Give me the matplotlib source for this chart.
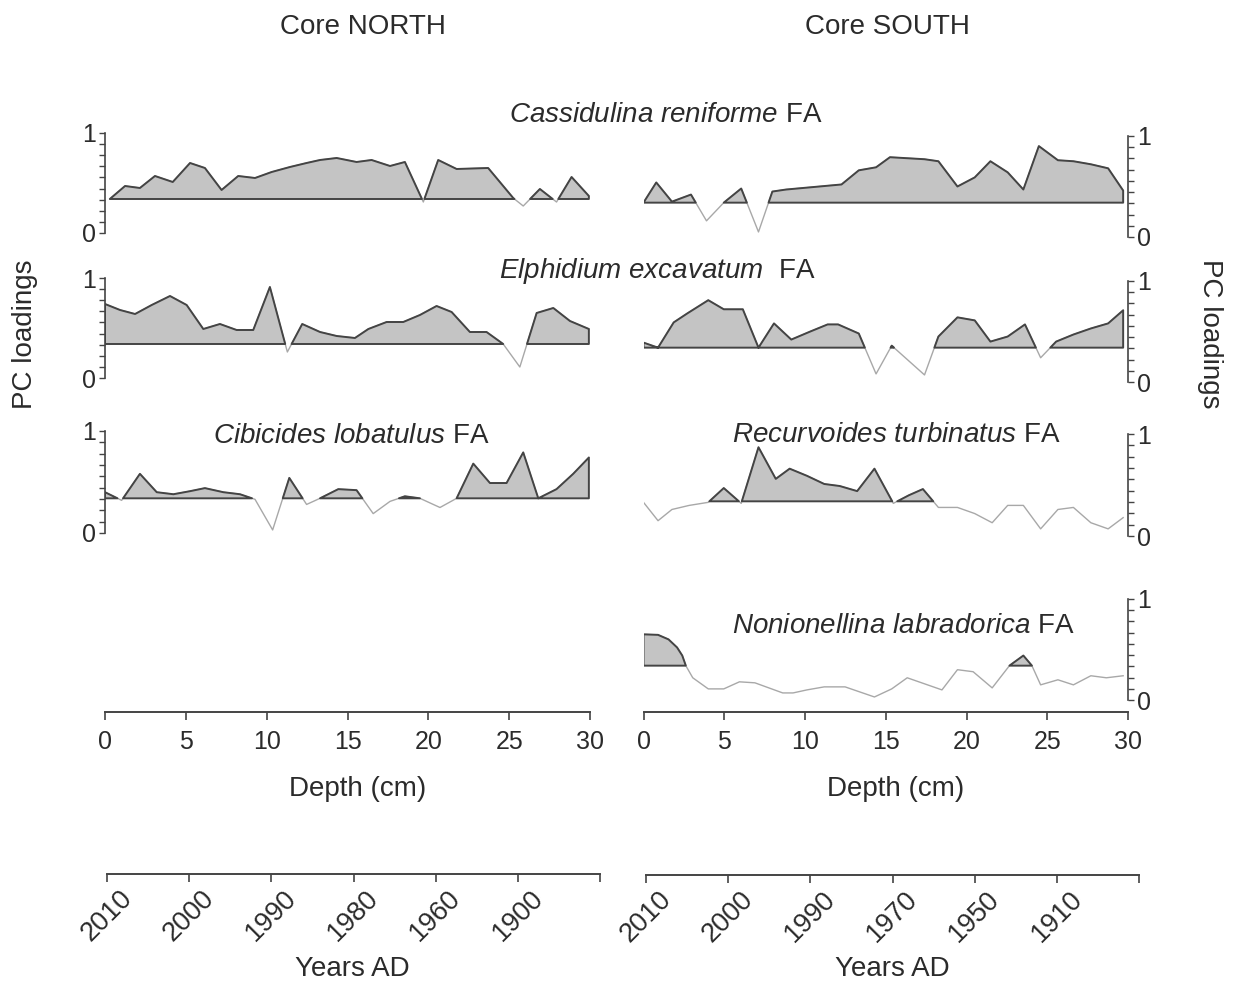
import numpy as np
import matplotlib
matplotlib.use("Agg")
import matplotlib.pyplot as plt
from matplotlib.ticker import FixedLocator

plt.rcParams['font.family'] = ['Liberation Sans', 'DejaVu Sans']
plt.rcParams['mathtext.fontset'] = 'custom'
plt.rcParams['mathtext.rm'] = 'Liberation Sans'
plt.rcParams['mathtext.it'] = 'Liberation Sans:italic'

# Loading above which the curve is shaded
BASELINE = 0.34

# Core NORTH -- Cassidulina reniforme FA
north_cass_depth = [0.3, 1.24, 2.16, 3.09, 4.19, 5.26, 6.18, 7.21, 8.24, 9.28, 10.31, 11.44,
                    12.47, 13.3, 14.33, 15.56, 16.49, 17.63, 18.55, 19.69, 20.61, 21.75, 23.7,
                    25.25, 25.87, 26.9, 27.93, 28.86, 29.93]
north_cass_vals = [0.34, 0.47, 0.45, 0.57, 0.51, 0.70, 0.65, 0.43, 0.57, 0.55, 0.61, 0.66,
                   0.70, 0.73, 0.75, 0.71, 0.73, 0.67, 0.71, 0.31, 0.73, 0.64, 0.65,
                   0.35, 0.27, 0.44, 0.31, 0.56, 0.37]

# Core NORTH -- Elphidium excavatum FA
north_elph_depth = [0.0, 0.93, 1.86, 2.89, 4.02, 5.05, 6.08, 7.11, 8.14, 9.17, 10.2, 11.28,
                    12.2, 13.3, 14.33, 15.46, 16.29, 17.42, 18.45, 19.48, 20.51, 21.44, 22.57,
                    23.6, 24.63, 25.66, 26.7, 27.73, 28.76, 29.93]
north_elph_vals = [0.74, 0.68, 0.64, 0.73, 0.82, 0.73, 0.49, 0.54, 0.48, 0.48, 0.91, 0.26,
                   0.54, 0.46, 0.42, 0.40, 0.49, 0.56, 0.56, 0.63, 0.72, 0.66, 0.46,
                   0.46, 0.34, 0.11, 0.65, 0.70, 0.57, 0.49]

# Core NORTH -- Cibicides lobatulus FA
north_cib_depth = [0.0, 1.03, 2.16, 3.2, 4.23, 5.26, 6.18, 7.32, 8.35, 9.28, 10.37, 11.4,
                   12.47, 13.3, 14.43, 15.56, 16.59, 17.63, 18.55, 19.48, 20.72, 21.75, 22.78,
                   23.81, 24.84, 25.87, 26.8, 27.93, 28.96, 29.93]
north_cib_vals = [0.40, 0.32, 0.58, 0.40, 0.38, 0.41, 0.44, 0.40, 0.38, 0.33, 0.03, 0.54,
                  0.28, 0.34, 0.43, 0.42, 0.19, 0.31, 0.36, 0.34, 0.25, 0.34, 0.68,
                  0.49, 0.49, 0.79, 0.34, 0.43, 0.58, 0.74]

# Core SOUTH -- Cassidulina reniforme FA
south_cass_depth = [0.0, 0.79, 1.76, 2.94, 3.9, 4.97, 6.05, 7.12, 7.98, 8.83, 12.26, 13.33,
                    14.4, 15.26, 17.4, 18.26, 19.44, 20.51, 21.48, 22.55, 23.52, 24.48, 25.66,
                    26.62, 27.7, 28.77, 29.7]
south_cass_vals = [0.34, 0.54, 0.35, 0.42, 0.16, 0.34, 0.48, 0.05, 0.45, 0.47, 0.52, 0.66,
                   0.69, 0.79, 0.77, 0.75, 0.50, 0.59, 0.75, 0.64, 0.47, 0.90, 0.76,
                   0.75, 0.72, 0.68, 0.46]

# Core SOUTH -- Elphidium excavatum FA
south_elph_depth = [0.0, 0.9, 1.87, 2.72, 4.01, 4.97, 6.15, 7.12, 8.08, 9.15, 10.33, 11.4,
                    12.05, 13.33, 14.4, 15.37, 17.4, 18.26, 19.44, 20.51, 21.48, 22.55, 23.62,
                    24.59, 25.55, 26.62, 27.7, 28.77, 29.7]
south_elph_vals = [0.39, 0.34, 0.59, 0.68, 0.81, 0.72, 0.72, 0.34, 0.58, 0.42, 0.50, 0.57,
                   0.57, 0.48, 0.08, 0.36, 0.07, 0.45, 0.64, 0.61, 0.40, 0.45, 0.57,
                   0.24, 0.40, 0.47, 0.53, 0.58, 0.71]

# Core SOUTH -- Recurvoides turbinatus FA
south_recu_depth = [0.0, 0.9, 1.76, 2.83, 4.01, 4.97, 6.05, 7.12, 8.19, 9.05, 10.12, 11.19,
                    12.15, 13.23, 14.3, 15.47, 16.44, 17.3, 18.26, 19.44, 20.51, 21.59, 22.55,
                    23.52, 24.59, 25.66, 26.62, 27.7, 28.77, 29.7]
south_recu_vals = [0.33, 0.15, 0.26, 0.30, 0.33, 0.47, 0.32, 0.87, 0.56, 0.66, 0.59, 0.51,
                   0.49, 0.44, 0.66, 0.32, 0.40, 0.46, 0.28, 0.28, 0.22, 0.13, 0.30,
                   0.30, 0.07, 0.26, 0.28, 0.13, 0.07, 0.18]

# Core SOUTH -- Nonionellina labradorica FA
south_noni_depth = [0.0, 0.9, 1.55, 2.08, 2.4, 2.62, 3.05, 4.01, 4.97, 5.94, 6.9, 8.62, 9.26,
                    10.12, 11.19, 12.48, 14.3, 15.37, 16.33, 18.48, 19.44, 20.41, 21.59,
                    22.66, 23.52, 24.05, 24.59, 25.66, 26.62, 27.7, 28.66, 29.7]
south_noni_vals = [0.65, 0.645, 0.60, 0.52, 0.44, 0.34, 0.22, 0.11, 0.11, 0.18, 0.17, 0.07, 0.07,
                   0.10, 0.13, 0.13, 0.03, 0.11, 0.22, 0.10, 0.30, 0.28, 0.12,
                   0.34, 0.44, 0.34, 0.15, 0.20, 0.15, 0.24, 0.22, 0.24]

depth_ticks = [0, 5, 10, 15, 20, 25, 30]
north_years = ['2010', '2000', '1990', '1980', '1960', '1900', '']
south_years = ['2010', '2000', '1990', '1970', '1950', '1910', '']

TXT = '#2b2b2b'
EDGE = '#444444'
FILL = '#c4c4c4'
LIGHT = '#a8a8a8'

W, H = 1234, 985
fig = plt.figure(figsize=(W / 100, H / 100), dpi=100)


def px_axes(x0, x1, ytop, ybot):
    return fig.add_axes([x0 / W, 1 - ybot / H, (x1 - x0) / W, (ybot - ytop) / H])


def ftext(x, y, s, **kw):
    kw.setdefault('color', TXT)
    kw.setdefault('ha', 'center')
    kw.setdefault('va', 'center')
    fig.text(x / W, 1 - y / H, s, **kw)


def draw_panel(ax, depth, vals, side):
    depth = np.asarray(depth, dtype=float)
    vals = np.asarray(vals, dtype=float)
    ax.plot(depth, vals, color=LIGHT, lw=1.0, zorder=1)
    ax.fill_between(depth, BASELINE, vals, where=vals >= BASELINE, interpolate=True,
                    facecolor=FILL, edgecolor=EDGE, linewidth=1.4, zorder=2)
    ax.set_xlim(0, 30)
    ax.set_ylim(0, 1)
    ax.patch.set_alpha(0)
    for s in ax.spines.values():
        s.set_visible(False)
    sp = ax.spines[side]
    sp.set_visible(True)
    sp.set_color(EDGE)
    sp.set_linewidth(1.2)
    ax.set_xticks([])
    ax.set_yticks([0, 1])
    ax.set_yticklabels(['0', '1'])
    ax.yaxis.set_minor_locator(FixedLocator(np.linspace(0, 1, 10)[1:-1]))
    ax.yaxis.set_ticks_position(side)
    ax.tick_params(axis='y', which='both', direction='out', length=4.5, width=1.0,
                   color=EDGE, labelsize=18, labelcolor=TXT, pad=2,
                   left=(side == 'left'), right=(side == 'right'),
                   labelleft=(side == 'left'), labelright=(side == 'right'))


def scale_axis(x0, x1, y, lim, ticks, labels, rotation=0, size=17.5, pad=5):
    ax = fig.add_axes([x0 / W, 1 - y / H, (x1 - x0) / W, 0.5 / H])
    ax.patch.set_alpha(0)
    for s in ['top', 'left', 'right']:
        ax.spines[s].set_visible(False)
    ax.spines['bottom'].set_color(EDGE)
    ax.spines['bottom'].set_linewidth(1.4)
    ax.set_xlim(*lim)
    ax.set_yticks([])
    ax.set_xticks(ticks)
    ax.set_xticklabels(labels, rotation=rotation)
    ax.tick_params(axis='x', direction='out', length=6, width=1.2, color=EDGE,
                   labelsize=size, labelcolor=TXT, pad=pad)
    return ax


# Left column (Core NORTH)
LX0, LX1 = 105, 590
# Right column (Core SOUTH)
RX0, RX1 = 643.5, 1128

draw_panel(px_axes(LX0, LX1, 133, 233), north_cass_depth, north_cass_vals, 'left')
draw_panel(px_axes(LX0, LX1, 278, 378), north_elph_depth, north_elph_vals, 'left')
draw_panel(px_axes(LX0, LX1, 431, 533), north_cib_depth, north_cib_vals, 'left')

draw_panel(px_axes(RX0, RX1, 136, 237), south_cass_depth, south_cass_vals, 'right')
draw_panel(px_axes(RX0, RX1, 281, 382), south_elph_depth, south_elph_vals, 'right')
draw_panel(px_axes(RX0, RX1, 434, 536), south_recu_depth, south_recu_vals, 'right')
draw_panel(px_axes(RX0, RX1, 599, 700), south_noni_depth, south_noni_vals, 'right')

# Depth scales
scale_axis(LX0, LX1, 712, (0, 30), depth_ticks, [str(t) for t in depth_ticks], size=18, pad=7)
scale_axis(RX0, RX1, 712, (0, 30), depth_ticks, [str(t) for t in depth_ticks], size=18, pad=7)

# Age scales
scale_axis(107, 600, 874, (0, 6), range(7), north_years, rotation=45, size=19.5, pad=2)
scale_axis(646, 1139, 875, (0, 6), range(7), south_years, rotation=45, size=19.5, pad=2)

# Headings and labels
ftext(363, 27, 'Core NORTH', fontsize=20)
ftext(887, 27, 'Core SOUTH', fontsize=20)

ftext(666, 115, r'$\mathit{Cassidulina\ reniforme}$ FA', fontsize=20)
ftext(657, 271, r'$\mathit{Elphidium\ excavatum}$  FA', fontsize=20)
ftext(351, 436, r'$\mathit{Cibicides\ lobatulus}$ FA', fontsize=20)
ftext(896, 435, r'$\mathit{Recurvoides\ turbinatus}$ FA', fontsize=20)
ftext(903, 626, r'$\mathit{Nonionellina\ labradorica}$ FA', fontsize=20)

ftext(25, 334, 'PC loadings', fontsize=20, rotation=90)
ftext(1210, 334, 'PC loadings', fontsize=20, rotation=270)

ftext(358, 789, 'Depth (cm)', fontsize=20)
ftext(896, 789, 'Depth (cm)', fontsize=20)
ftext(352, 969, 'Years AD', fontsize=20)
ftext(892, 969, 'Years AD', fontsize=20)

fig.savefig('out.png', dpi=100, facecolor='white')
